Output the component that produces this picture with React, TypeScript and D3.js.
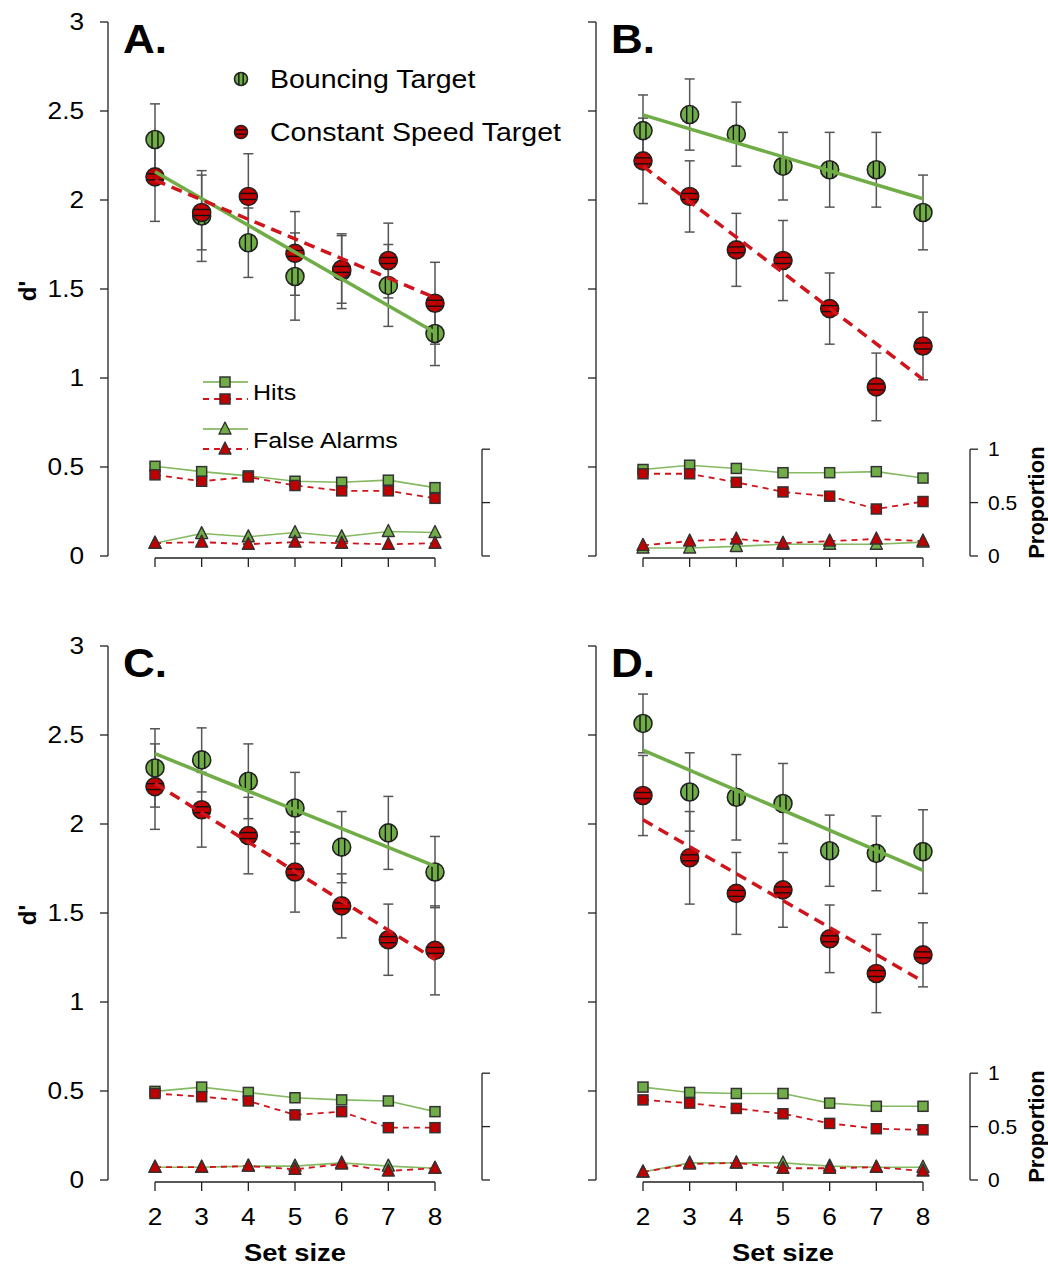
import React from "react";
import * as d3 from "d3";

// set sizes on the x axis
const setSizes = [2, 3, 4, 5, 6, 7, 8];
const dTicks = [0, 0.5, 1, 1.5, 2, 2.5, 3];
const dTickLabels = ["0", "0.5", "1", "1.5", "2", "2.5", "3"];
const propTicks = [0, 0.5, 1];
const propTickLabels = ["0", "0.5", "1"];

// Panel A
const aBounceD = [2.34, 1.91, 1.76, 1.57, 1.6, 1.52, 1.25];
const aBounceErr = [0.2, 0.255, 0.195, 0.245, 0.21, 0.23, 0.18];
const aConstD = [2.13, 1.93, 2.02, 1.7, 1.61, 1.66, 1.42];
const aConstErr = [0.25, 0.21, 0.24, 0.235, 0.19, 0.21, 0.23];
const aBounceHits = [0.84, 0.79, 0.75, 0.7, 0.69, 0.71, 0.64];
const aConstHits = [0.76, 0.7, 0.74, 0.66, 0.61, 0.61, 0.54];
const aBounceFA = [0.12, 0.21, 0.18, 0.22, 0.18, 0.23, 0.22];
const aConstFA = [0.12, 0.13, 0.11, 0.13, 0.12, 0.11, 0.12];

// Panel B
const bBounceD = [2.39, 2.48, 2.37, 2.19, 2.17, 2.17, 1.93];
const bBounceErr = [0.2, 0.2, 0.18, 0.19, 0.21, 0.21, 0.21];
const bConstD = [2.22, 2.02, 1.72, 1.66, 1.39, 0.95, 1.18];
const bConstErr = [0.24, 0.2, 0.205, 0.225, 0.2, 0.19, 0.19];
const bBounceHits = [0.81, 0.85, 0.82, 0.78, 0.78, 0.79, 0.73];
const bConstHits = [0.77, 0.77, 0.69, 0.6, 0.56, 0.44, 0.51];
const bBounceFA = [0.075, 0.075, 0.09, 0.11, 0.11, 0.11, 0.13];
const bConstFA = [0.1, 0.14, 0.16, 0.12, 0.14, 0.16, 0.14];

// Panel C
const cBounceD = [2.315, 2.36, 2.24, 2.09, 1.87, 1.95, 1.73];
const cBounceErr = [0.22, 0.18, 0.21, 0.2, 0.2, 0.205, 0.2];
const cConstD = [2.21, 2.08, 1.935, 1.73, 1.54, 1.35, 1.29];
const cConstErr = [0.24, 0.21, 0.215, 0.225, 0.18, 0.2, 0.25];
const cBounceHits = [0.83, 0.87, 0.82, 0.77, 0.75, 0.74, 0.64];
const cConstHits = [0.81, 0.78, 0.74, 0.61, 0.64, 0.49, 0.49];
const cBounceFA = [0.12, 0.12, 0.13, 0.13, 0.16, 0.13, 0.11];
const cConstFA = [0.12, 0.12, 0.13, 0.1, 0.15, 0.085, 0.11];

// Panel D
const dBounceD = [2.565, 2.18, 2.15, 2.115, 1.85, 1.835, 1.845];
const dBounceErr = [0.165, 0.22, 0.24, 0.225, 0.2, 0.21, 0.235];
const dConstD = [2.16, 1.81, 1.61, 1.63, 1.355, 1.16, 1.265];
const dConstErr = [0.225, 0.26, 0.23, 0.21, 0.19, 0.22, 0.18];
const dBounceHits = [0.87, 0.82, 0.81, 0.81, 0.72, 0.69, 0.69];
const dConstHits = [0.75, 0.72, 0.67, 0.62, 0.53, 0.48, 0.47];
const dBounceFA = [0.075, 0.16, 0.16, 0.16, 0.13, 0.12, 0.12];
const dConstFA = [0.075, 0.15, 0.16, 0.11, 0.11, 0.12, 0.085];

const FONT = "'Liberation Sans', Arial, sans-serif";
const SX = 1.14; // text in the original is a bit wide
const GREEN = "#70ad47";
const RED = "#c00000";
const RED_LINE = "#d0141c";
const ERR = "#555";

const panels = [
  { label: "A.", left: 108, y0: 556, bounce: aBounceD, bErr: aBounceErr, cons: aConstD, cErr: aConstErr, bH: aBounceHits, cH: aConstHits, bF: aBounceFA, cF: aConstFA, yLabels: true, propLabels: false, xLabels: false, legend: true },
  { label: "B.", left: 596, y0: 556, bounce: bBounceD, bErr: bBounceErr, cons: bConstD, cErr: bConstErr, bH: bBounceHits, cH: bConstHits, bF: bBounceFA, cF: bConstFA, yLabels: false, propLabels: true, xLabels: false, legend: false },
  { label: "C.", left: 108, y0: 1180, bounce: cBounceD, bErr: cBounceErr, cons: cConstD, cErr: cConstErr, bH: cBounceHits, cH: cConstHits, bF: cBounceFA, cF: cConstFA, yLabels: true, propLabels: false, xLabels: true, legend: false },
  { label: "D.", left: 596, y0: 1180, bounce: dBounceD, bErr: dBounceErr, cons: dConstD, cErr: dConstErr, bH: dBounceHits, cH: dConstHits, bF: dBounceFA, cF: dConstFA, yLabels: false, propLabels: true, xLabels: true, legend: false },
];

function T({ x, y, size, anchor = "start", bold = false, sx = SX, children }: any) {
  return (
    <text
      transform={`translate(${x},${y}) scale(${sx},1)`}
      fontFamily={FONT}
      fontSize={size}
      fontWeight={bold ? "bold" : "normal"}
      textAnchor={anchor}
      fill="#000"
    >
      {children}
    </text>
  );
}

// striped circle like the original markers
function Dot({ cx, cy, r, fill, vertical }: any) {
  const offs = [-r * 0.33, r * 0.33];
  return (
    <g>
      <circle cx={cx} cy={cy} r={r} fill={fill} />
      {offs.map((o, i) => {
        const h = Math.sqrt(r * r - o * o);
        return vertical ? (
          <line key={i} x1={cx + o} x2={cx + o} y1={cy - h} y2={cy + h} stroke="#111" strokeWidth={1.4} />
        ) : (
          <line key={i} y1={cy + o} y2={cy + o} x1={cx - h} x2={cx + h} stroke="#111" strokeWidth={1.4} />
        );
      })}
      <circle cx={cx} cy={cy} r={r} fill="none" stroke="#222" strokeWidth={1.6} />
    </g>
  );
}

function Sq({ cx, cy, fill }: any) {
  const s = 10;
  return <rect x={cx - s / 2} y={cy - s / 2} width={s} height={s} fill={fill} stroke="#333" strokeWidth={1.5} />;
}

function Tri({ cx, cy, fill }: any) {
  const s = 12;
  const p = `M${cx},${cy - s * 0.58}L${cx - s / 2},${cy + s * 0.42}L${cx + s / 2},${cy + s * 0.42}Z`;
  return <path d={p} fill={fill} stroke="#333" strokeWidth={1.4} strokeLinejoin="round" />;
}

function fitEnds(ys: number[]) {
  const mx = d3.mean(setSizes) as number;
  const my = d3.mean(ys) as number;
  const b =
    d3.sum(setSizes.map((x, i) => (x - mx) * (ys[i] - my))) /
    d3.sum(setSizes.map((x) => (x - mx) * (x - mx)));
  const a = my - b * mx;
  return [
    [2, a + b * 2],
    [8, a + b * 8],
  ];
}

function Panel({ p }: any) {
  const x = d3.scaleLinear().domain([2, 8]).range([p.left + 47, p.left + 327]);
  const y = d3.scaleLinear().domain([0, 3]).range([p.y0, p.y0 - 534]);
  // proportions are drawn on the lower part of the d' scale
  const py = d3.scaleLinear().domain([0, 1]).range([y(0), y(0.6)]);
  const rightX = p.left + 374;
  const line = d3.line<number>().x((_, i) => x(setSizes[i])).y((v) => py(v));
  const reg = d3.line<number[]>().x((d) => x(d[0])).y((d) => y(d[1]));

  const errBars = (vals: number[], errs: number[], k: string) =>
    vals.map((v, i) => {
      const cx = x(setSizes[i]);
      return (
        <g key={k + i} stroke={ERR} strokeWidth={1.5}>
          <line x1={cx} x2={cx} y1={y(v + errs[i])} y2={y(v - errs[i])} />
          <line x1={cx - 5} x2={cx + 5} y1={y(v + errs[i])} y2={y(v + errs[i])} />
          <line x1={cx - 5} x2={cx + 5} y1={y(v - errs[i])} y2={y(v - errs[i])} />
        </g>
      );
    });

  return (
    <g>
      {/* left d' axis */}
      <line x1={p.left} x2={p.left} y1={y(0)} y2={y(3)} stroke="#222" strokeWidth={1.3} />
      {dTicks.map((t, i) => (
        <g key={"yt" + i}>
          <line x1={p.left - 8} x2={p.left} y1={y(t)} y2={y(t)} stroke="#222" strokeWidth={1.3} />
          {p.yLabels && (
            <T x={p.left - 24} y={y(t) + 8} size={23} anchor="end">
              {dTickLabels[i]}
            </T>
          )}
        </g>
      ))}
      {p.yLabels && (
        <text transform={`translate(36,${y(1.5) + 2}) rotate(-90)`} fontFamily={FONT} fontSize={24} fontWeight="bold" textAnchor="middle">
          d'
        </text>
      )}

      {/* right proportion axis */}
      <line x1={rightX} x2={rightX} y1={py(0)} y2={py(1)} stroke="#222" strokeWidth={1.3} />
      {propTicks.map((t, i) => (
        <g key={"pt" + i}>
          <line x1={rightX} x2={rightX + 8} y1={py(t)} y2={py(t)} stroke="#222" strokeWidth={1.3} />
          {p.propLabels && (
            <T x={rightX + 18} y={py(t) + 7} size={20} sx={1.05}>
              {propTickLabels[i]}
            </T>
          )}
        </g>
      ))}
      {p.propLabels && (
        <text transform={`translate(1044,${py(0.5)}) rotate(-90)`} fontFamily={FONT} fontSize={22} fontWeight="bold" textAnchor="middle">
          Proportion
        </text>
      )}

      {/* x axis */}
      <line x1={x(2)} x2={x(8)} y1={y(0) + 2} y2={y(0) + 2} stroke="#222" strokeWidth={1.3} />
      {setSizes.map((s) => (
        <g key={"xt" + s}>
          <line x1={x(s)} x2={x(s)} y1={y(0) + 2} y2={y(0) + 11} stroke="#222" strokeWidth={1.3} />
          {p.xLabels && (
            <T x={x(s)} y={y(0) + 45} size={23} anchor="middle">
              {String(s)}
            </T>
          )}
        </g>
      ))}
      {p.xLabels && (
        <T x={x(5)} y={y(0) + 81} size={24} anchor="middle" bold>
          Set size
        </T>
      )}

      {/* hits and false alarms */}
      <path d={line(p.bH) as string} fill="none" stroke={GREEN} strokeWidth={1.6} opacity={0.85} />
      <path d={line(p.bF) as string} fill="none" stroke={GREEN} strokeWidth={1.6} opacity={0.85} />
      {p.bH.map((v: number, i: number) => <Sq key={"bh" + i} cx={x(setSizes[i])} cy={py(v)} fill={GREEN} />)}
      {p.bF.map((v: number, i: number) => <Tri key={"bf" + i} cx={x(setSizes[i])} cy={py(v)} fill={GREEN} />)}
      <path d={line(p.cH) as string} fill="none" stroke={RED_LINE} strokeWidth={1.8} strokeDasharray="6,5" />
      <path d={line(p.cF) as string} fill="none" stroke={RED_LINE} strokeWidth={1.8} strokeDasharray="6,5" />
      {p.cH.map((v: number, i: number) => <Sq key={"ch" + i} cx={x(setSizes[i])} cy={py(v)} fill={RED} />)}
      {p.cF.map((v: number, i: number) => <Tri key={"cf" + i} cx={x(setSizes[i])} cy={py(v)} fill={RED} />)}

      {/* d' with error bars */}
      {errBars(p.bounce, p.bErr, "be")}
      {errBars(p.cons, p.cErr, "ce")}
      {p.bounce.map((v: number, i: number) => (
        <Dot key={"bd" + i} cx={x(setSizes[i])} cy={y(v)} r={9} fill={GREEN} vertical />
      ))}
      {p.cons.map((v: number, i: number) => (
        <Dot key={"cd" + i} cx={x(setSizes[i])} cy={y(v)} r={9} fill={RED} vertical={false} />
      ))}
      <path d={reg(fitEnds(p.bounce)) as string} fill="none" stroke={GREEN} strokeWidth={3.5} />
      <path d={reg(fitEnds(p.cons)) as string} fill="none" stroke={RED_LINE} strokeWidth={3.5} strokeDasharray="11,7" />

      {/* panel letter */}
      <T x={p.left + 15} y={y(3) + 31} size={40} bold sx={1.1}>
        {p.label}
      </T>

      {p.legend && (
        <g>
          <Dot cx={241} cy={79} r={6.5} fill={GREEN} vertical />
          <T x={270} y={88} size={25}>Bouncing Target</T>
          <Dot cx={241} cy={132} r={6.5} fill={RED} vertical={false} />
          <T x={270} y={141} size={25}>Constant Speed Target</T>

          <line x1={203} x2={248} y1={382} y2={382} stroke={GREEN} strokeWidth={1.6} />
          <Sq cx={225} cy={382} fill={GREEN} />
          <line x1={203} x2={248} y1={399} y2={399} stroke={RED_LINE} strokeWidth={1.8} strokeDasharray="6,5" />
          <Sq cx={225} cy={399} fill={RED} />
          <T x={253} y={400} size={22}>Hits</T>

          <line x1={203} x2={248} y1={429} y2={429} stroke={GREEN} strokeWidth={1.6} />
          <Tri cx={225} cy={429} fill={GREEN} />
          <line x1={203} x2={248} y1={449} y2={449} stroke={RED_LINE} strokeWidth={1.8} strokeDasharray="6,5" />
          <Tri cx={225} cy={449} fill={RED} />
          <T x={253} y={448} size={22}>False Alarms</T>
        </g>
      )}
    </g>
  );
}

export default function App() {
  return (
    <svg
      width={1048}
      height={1270}
      style={{ position: "absolute", left: 0, top: 0, background: "#fff" }}
    >
      <rect width={1048} height={1270} fill="#fff" />
      {panels.map((p) => (
        <Panel key={p.label} p={p} />
      ))}
    </svg>
  );
}
